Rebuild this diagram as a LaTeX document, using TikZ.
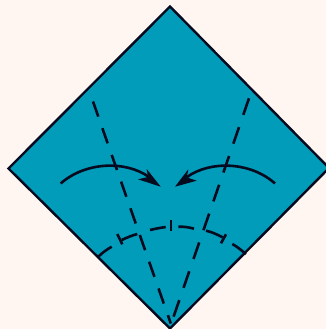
\documentclass[tikz,border=0pt]{standalone}
\definecolor{pagebg}{HTML}{FFF5F1}
\definecolor{paper}{HTML}{019CB9}
\definecolor{inkline}{HTML}{050A1E}
\tikzset{
  x=1pt,y=-1pt,
  outline/.style={draw=inkline,line width=2.4pt,line join=miter,fill=paper},
  fold/.style={draw=inkline,line width=2.6pt},
  arrowline/.style={draw=inkline,line width=2.6pt},
  arrowhead/.style={fill=inkline,draw=none}
}
\begin{document}
\begin{tikzpicture}
\useasboundingbox (0,0) rectangle (326,329);
\clip (0,0) rectangle (326,329);
\fill[pagebg] (0,0) rectangle (326,329);
\draw[outline] (170,6.5) -- (329,168) -- (170,328.5) -- (8.5,168.5) -- cycle;
% valley folds
\draw[fold,dash pattern=on 16pt off 12.3pt] (93,101.5) -- (170.8,323.5);
\draw[fold,dash pattern=on 17.5pt off 13pt] (249,98.3) -- (173.3,317.5);
% arc segments
\draw[fold] (98.3,256.7) .. controls (103,252) and (107,249.5) .. (111.7,246.7);
\draw[fold] (121.7,240) .. controls (127,237.5) and (132,235.5) .. (137.3,234);
\draw[fold] (150,230) .. controls (155,228.8) and (160,227.8) .. (165.7,227);
\draw[fold] (178.3,226.7) .. controls (183,226.5) and (189,227.2) .. (194,228.7);
\draw[fold] (206,230.7) .. controls (212,232) and (217,234.5) .. (222.7,237.3);
\draw[fold] (232.3,244) .. controls (237,246.5) and (241,250) .. (246,254);
% tick marks
\draw[fold] (117.3,234) -- (122.3,244.3);
\draw[fold] (171,220) -- (171,231.3);
\draw[fold] (226,234.3) -- (221,243.3);
% arrows
\draw[arrowline] (60.7,183.5) .. controls (85,162) and (125,160) .. (149,177);
\fill[arrowhead] (160.7,186.7) -- (146.7,169) -- (148,177) -- (138,179.3) -- cycle;
\draw[arrowline] (275,183.5) .. controls (251,162) and (211,160) .. (187,177);
\fill[arrowhead] (175,186.7) -- (188.3,169.3) -- (186.7,177.3) -- (196.7,180.7) -- cycle;
\end{tikzpicture}
\end{document}
